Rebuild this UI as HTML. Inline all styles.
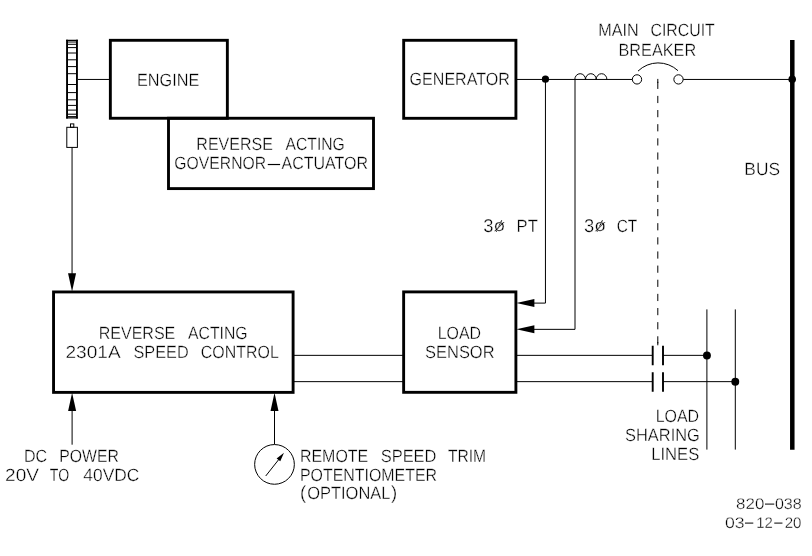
<!DOCTYPE html>
<html><head><meta charset="utf-8"><title>2301A Speed Control - Reverse Acting</title>
<style>
html,body{margin:0;padding:0;background:#fff;}
svg{display:block;}
text{font-family:"Liberation Sans",sans-serif;fill:#000;stroke:#fff;stroke-width:0.34px;paint-order:fill stroke;vector-effect:non-scaling-stroke;text-rendering:geometricPrecision;}
text.d{stroke:none;}
#labels{opacity:0.999;}
.bx{fill:none;stroke:#000;stroke-width:2.88;}
.ln{fill:none;stroke:#000;stroke-width:1;}
.dot{fill:#000;}
.ah{fill:#000;}
</style></head><body>
<svg width="812" height="556" viewBox="0 0 812 556">
<rect x="0" y="0" width="812" height="556" fill="#fff"/>
<g id="gear">
<path d="M67.05 39.7 V118.6 M76.95 39.7 V118.6" fill="none" stroke="#000" stroke-width="1.9"/>
<path d="M66.1 40.35 H77.9 M66.1 117.95 H77.9" fill="none" stroke="#000" stroke-width="1.3"/>
<path d="M68 42 H76 M68 44.3 H76 M68 47.6 H76 M68 53 H76 M68 59.8 H76 M68 66.6 H76 M68 73.7 H76 M68 84.5 H76 M68 92.6 H76 M68 99.8 H76 M68 105.4 H76 M68 110.1 H76 M68 114.2 H76 M68 116.6 H76" class="ln"/>
</g>
<g id="pickup">
<rect x="70.5" y="123.9" width="3.3" height="3.4" class="ln"/>
<rect x="66.8" y="127.3" width="10.6" height="20.1" class="ln"/>
<path d="M72.05 147.4 V275" class="ln"/>
<path d="M72.05 291.6 L68.05 273.2 H76.05 Z" class="ah"/>
</g>
<g id="boxes">
<path d="M78 79.45 H109.5" class="ln"/>
<rect x="110.35" y="40.3" width="117" height="77.95" class="bx"/>
<rect x="168.5" y="118.25" width="205" height="70.35" class="bx"/>
<rect x="403.68" y="40.3" width="112.24" height="78" class="bx"/>
<rect x="403.64" y="291.9" width="112.26" height="100.42" class="bx"/>
<rect x="53.55" y="291.95" width="239.55" height="100.43" class="bx"/>
</g>
<g id="wiring">
<path d="M517 79.45 H632.3" class="ln"/>
<path d="M574.8 79.45 A5.35 5.75 0 0 1 585.5 79.45 A5.35 5.75 0 0 1 596.2 79.45 A5.35 5.75 0 0 1 606.9 79.45" class="ln"/>
<circle cx="637" cy="79.4" r="4.65" class="ln"/>
<circle cx="678.5" cy="79.4" r="4.65" class="ln"/>
<path d="M638 71.1 A29 29 0 0 1 678 70.7" class="ln"/>
<path d="M683.2 79.45 H792" class="ln"/>
<path d="M657.8 81.75 V343.6" class="ln" stroke-dasharray="7.2 6.94"/>
<path d="M657.8 78.9 V83 M657.8 342 V345.3" class="ln"/>
<path d="M545.45 79.4 V303.1 H533" class="ln"/>
<path d="M575 79.4 V329.35 H533" class="ln"/>
<path d="M516.4 303.05 L534.4 299.1 V307 Z" class="ah"/>
<path d="M516.4 329.3 L534.4 325.35 V333.25 Z" class="ah"/>
<circle cx="545.45" cy="79.2" r="3.6" class="dot"/>
<path d="M293 355.35 H404 M293 381.65 H404" class="ln"/>
<path d="M517 355.35 H652.7 M663 355.35 H706.9 M517 381.65 H652.7 M663 381.65 H735.3" class="ln"/>
<path d="M652.7 345.8 V365.2 M663 345.8 V365.2 M652.7 372.2 V391.7 M663 372.2 V391.7" fill="none" stroke="#000" stroke-width="1.9"/>
<path d="M706.9 309.4 V449.6 M735.3 309.4 V449.6" class="ln"/>
<circle cx="706.95" cy="355.45" r="3.95" class="dot"/>
<circle cx="735.3" cy="381.7" r="3.95" class="dot"/>
<path d="M792.3 40 V449.8" fill="none" stroke="#000" stroke-width="4.5"/>
<circle cx="792.2" cy="79.3" r="3.8" class="dot"/>
<path d="M72.1 444.7 V410" class="ln"/>
<path d="M72.1 392.8 L68.1 411.1 H76.1 Z" class="ah"/>
<path d="M274.5 444.3 V410" class="ln"/>
<path d="M274.5 392.8 L270.5 411.1 H278.5 Z" class="ah"/>
<circle cx="274.5" cy="464.4" r="19.85" class="ln"/>
<path d="M265.74 475.97 L279 459.2" class="ln"/>
<path d="M284 452.86 L280.26 461.31 L276.64 458.45 Z" class="ah"/>
<path d="M496.4 231.7 L501.7 220.3 M597.1 231.7 L602.4 220.3" class="ln" stroke-width="0.9"/>
</g>
<g id="labels">
<text transform="translate(137.03 85.5) scale(0.9188 1)" font-size="17.7">ENGINE</text>
<text transform="translate(196.35 150.2) scale(0.9046 1)" font-size="17.7">REVERSE</text>
<text transform="translate(285.5 150.2) scale(0.8879 1)" font-size="17.7">ACTING</text>
<text transform="translate(174.36 169.2) scale(0.8888 1)" font-size="17.7">GOVERNOR</text>
<text class="d" transform="translate(267.7 169.2) scale(1.2555 1)" font-size="17.7">–</text>
<text transform="translate(281.5 169.2) scale(0.9043 1)" font-size="17.7">ACTUATOR</text>
<text transform="translate(409.55 84.95) scale(0.9089 1)" font-size="17.7">GENERATOR</text>
<text transform="translate(598.23 36.2) scale(0.9149 1)" font-size="17.7">MAIN</text>
<text transform="translate(650.46 36.2) scale(0.8960 1)" font-size="17.7">CIRCUIT</text>
<text transform="translate(618.43 55.6) scale(0.9201 1)" font-size="17.7">BREAKER</text>
<text transform="translate(744.34 174.7) scale(0.9805 1)" font-size="17.7">BUS</text>
<text transform="translate(483.33 232.2) scale(0.9932 1)" font-size="18.5">3</text>
<text transform="translate(493.5 230.8) scale(1.1670 1)" font-size="16.6">ø</text>
<text transform="translate(516.61 232.2) scale(0.9364 1)" font-size="17.7">PT</text>
<text transform="translate(584.03 232.2) scale(0.9932 1)" font-size="18.5">3</text>
<text transform="translate(594.2 230.8) scale(1.1670 1)" font-size="16.6">ø</text>
<text transform="translate(616.68 232.2) scale(0.8726 1)" font-size="17.7">CT</text>
<text transform="translate(98.65 339.2) scale(0.9070 1)" font-size="17.7">REVERSE</text>
<text transform="translate(188 339.2) scale(0.8925 1)" font-size="17.7">ACTING</text>
<text transform="translate(65.51 358.1) scale(1.0786 1)" font-size="17.7">2301A</text>
<text transform="translate(133.49 358.1) scale(0.9195 1)" font-size="17.7">SPEED</text>
<text transform="translate(200.85 358.1) scale(0.9007 1)" font-size="17.7">CONTROL</text>
<text transform="translate(437.75 339.4) scale(0.9004 1)" font-size="17.7">LOAD</text>
<text transform="translate(425.09 357.8) scale(0.9296 1)" font-size="17.7">SENSOR</text>
<text transform="translate(23.94 461.9) scale(0.9080 1)" font-size="17.7">DC</text>
<text transform="translate(59.27 461.9) scale(0.8925 1)" font-size="17.7">POWER</text>
<text transform="translate(5.11 480.6) scale(1.0732 1)" font-size="17.7">20V</text>
<text transform="translate(49.78 480.6) scale(0.7969 1)" font-size="17.7">TO</text>
<text transform="translate(83.33 480.6) scale(0.9810 1)" font-size="17.7">40VDC</text>
<text transform="translate(299.95 461.9) scale(0.9023 1)" font-size="17.7">REMOTE</text>
<text transform="translate(380.69 461.9) scale(0.9297 1)" font-size="17.7">SPEED</text>
<text transform="translate(447.96 461.9) scale(0.8831 1)" font-size="17.7">TRIM</text>
<text transform="translate(299.96 480.8) scale(0.9001 1)" font-size="17.7">POTENTIOMETER</text>
<text transform="translate(299.93 499) scale(0.9782 1)" font-size="18.9">(</text>
<text transform="translate(307.13 499.1) scale(0.9316 1)" font-size="17.7">OPTIONAL</text>
<text transform="translate(391 499) scale(0.9782 1)" font-size="18.9">)</text>
<text transform="translate(655.65 421.9) scale(0.9025 1)" font-size="17.7">LOAD</text>
<text transform="translate(625.09 440.8) scale(0.9268 1)" font-size="17.7">SHARING</text>
<text transform="translate(651.2 460.2) scale(0.9403 1)" font-size="17.7">LINES</text>
<text transform="translate(736.07 508.6) scale(1.0995 1)" font-size="15.4">820</text>
<text class="d" transform="translate(764.9 507.5) scale(1.0851 1)" font-size="15.4">–</text>
<text transform="translate(774.9 508.6) scale(1.0452 1)" font-size="15.4">038</text>
<text transform="translate(724.95 527.8) scale(1.1483 1)" font-size="15.4">03</text>
<text class="d" transform="translate(744.9 526.7) scale(0.9697 1)" font-size="15.4">–</text>
<text transform="translate(756.16 527.8) scale(0.9715 1)" font-size="15.4">12</text>
<text class="d" transform="translate(774.3 526.7) scale(0.9582 1)" font-size="15.4">–</text>
<text transform="translate(784.69 527.8) scale(0.9798 1)" font-size="15.4">20</text>
</g>
</svg>
</body></html>
